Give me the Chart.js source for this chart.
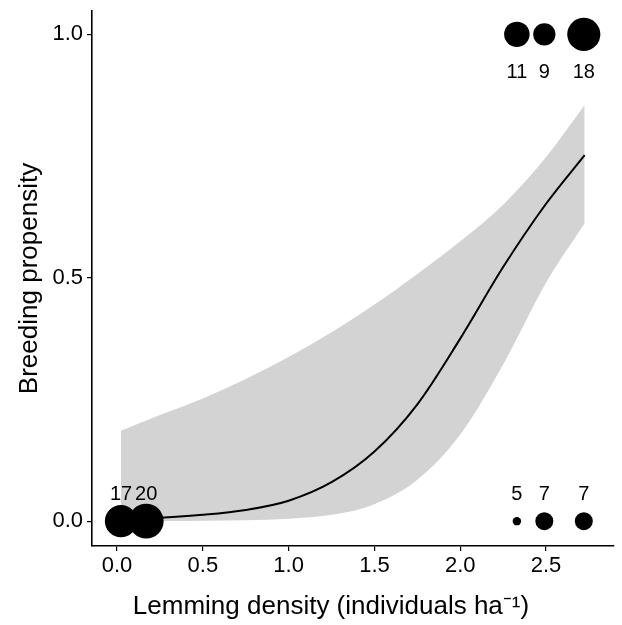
<!DOCTYPE html>
<html lang="en">
  <head>
    <meta charset="UTF-8" />
    <title>Breeding propensity vs lemming density</title>
    <script src="https://cdn.jsdelivr.net/npm/chart.js"></script>
    <style>
      body { margin: 0; background: #fff; }
      canvas { display: block; }
    </style>
  </head>
  <body>
    <canvas id="chart" width="622" height="625"></canvas>
    <script>
      // Fitted curve and confidence band
      const fitX = [0.023, 0.25, 0.5, 0.75, 1.0, 1.25, 1.5, 1.75, 2.0, 2.25, 2.5, 2.725];
      const fitY = [0.004, 0.007, 0.013, 0.023, 0.042, 0.08, 0.143, 0.24, 0.375, 0.522, 0.652, 0.752];
      const upperY = [0.186, 0.218, 0.252, 0.292, 0.337, 0.388, 0.445, 0.508, 0.575, 0.65, 0.748, 0.855];
      const lowerY = [0.0, 0.0005, 0.001, 0.002, 0.005, 0.013, 0.035, 0.085, 0.178, 0.322, 0.49, 0.612];

      // Observed breeding outcomes, grouped (counts shown as labels)
      const bredX = [2.33, 2.49, 2.72];
      const bredN = [11, 9, 18];
      const failedX = [0.023, 0.17, 2.33, 2.49, 2.72];
      const failedN = [17, 20, 5, 7, 7];

      const xTicks = [0, 0.5, 1, 1.5, 2, 2.5];
      const yTicks = [0, 0.5, 1];
      const xTitle = "Lemming density (individuals ha\u207B\u00B9)";
      const yTitle = "Breeding propensity";

      const allN = bredN.concat(failedN);
      const nMin = Math.min(...allN);
      const nMax = Math.max(...allN);
      function radiusFor(n) {
        const t = (Math.sqrt(n) - Math.sqrt(nMin)) / (Math.sqrt(nMax) - Math.sqrt(nMin));
        return 4.2 + 13.2 * Math.pow(t, 0.6);
      }

      const pts = bredX.map((x, i) => ({ x: x, y: 1, n: bredN[i] }))
        .concat(failedX.map((x, i) => ({ x: x, y: 0, n: failedN[i] })));

      const font = "'Liberation Sans', Arial, Helvetica, sans-serif";

      // count labels next to each circle, plus the x axis title
      const countLabels = {
        id: "countLabels",
        afterDatasetsDraw(chart) {
          const ctx = chart.ctx;
          const meta = chart.getDatasetMeta(0);
          ctx.save();
          ctx.fillStyle = "#000";
          ctx.font = "20px " + font;
          ctx.textAlign = "center";
          ctx.textBaseline = "middle";
          meta.data.forEach((el, i) => {
            const p = pts[i];
            const dy = p.y === 1 ? 38 : -27;
            ctx.fillText(String(p.n), el.x, el.y + dy);
          });
          ctx.font = "26px " + font;
          ctx.fillText(xTitle, 331, 607);
          ctx.restore();
        },
      };

      const line = (data, extra) =>
        Object.assign(
          {
            data: data,
            showLine: true,
            pointRadius: 0,
            cubicInterpolationMode: "monotone",
          },
          extra
        );

      new Chart(document.getElementById("chart"), {
        type: "scatter",
        data: {
          datasets: [
            {
              data: pts,
              backgroundColor: "#000",
              borderWidth: 0,
              pointRadius: (c) => radiusFor(c.raw.n),
              pointHoverRadius: (c) => radiusFor(c.raw.n),
            },
            line(fitX.map((x, i) => ({ x: x, y: fitY[i] })), {
              borderColor: "#000",
              borderWidth: 2,
            }),
            line(fitX.map((x, i) => ({ x: x, y: upperY[i] })), {
              borderWidth: 0,
              borderColor: "rgba(0,0,0,0)",
              backgroundColor: "rgb(211,211,211)",
              fill: "+1",
            }),
            line(fitX.map((x, i) => ({ x: x, y: lowerY[i] })), {
              borderWidth: 0,
              borderColor: "rgba(0,0,0,0)",
              fill: false,
            }),
          ],
        },
        options: {
          responsive: false,
          animation: false,
          layout: { autoPadding: false, padding: { top: 11, right: 8, left: 0, bottom: 0 } },
          plugins: {
            legend: { display: false },
            tooltip: { enabled: false },
          },
          scales: {
            x: {
              type: "linear",
              min: -0.146,
              max: 2.896,
              afterBuildTicks: (s) => { s.ticks = xTicks.map((v) => ({ value: v })); },
              afterFit: (s) => {
                s.height = 79;
                s.paddingLeft = 0;
                s.paddingRight = 0;
              },
              grid: { drawOnChartArea: false, color: "#000", tickLength: 5, lineWidth: 1.2 },
              border: { color: "#000", width: 1.6 },
              ticks: {
                color: "#000",
                padding: 2,
                font: { family: font, size: 22 },
                callback: (v) => v.toFixed(1),
              },
              title: { display: false },
            },
            y: {
              type: "linear",
              min: -0.051,
              max: 1.048,
              afterBuildTicks: (s) => { s.ticks = yTicks.map((v) => ({ value: v })); },
              afterFit: (s) => {
                s.width = 92;
                s.paddingTop = 0;
                s.paddingBottom = 0;
              },
              grid: { drawOnChartArea: false, color: "#000", tickLength: 5, lineWidth: 1.2 },
              border: { color: "#000", width: 1.6 },
              ticks: {
                color: "#000",
                padding: 4,
                font: { family: font, size: 22 },
                callback: (v) => v.toFixed(1),
              },
              title: {
                display: true,
                text: yTitle,
                color: "#000",
                font: { family: font, size: 26 },
                padding: { top: 14, bottom: 0 },
              },
            },
          },
        },
        plugins: [countLabels],
      });
    </script>
  </body>
</html>
